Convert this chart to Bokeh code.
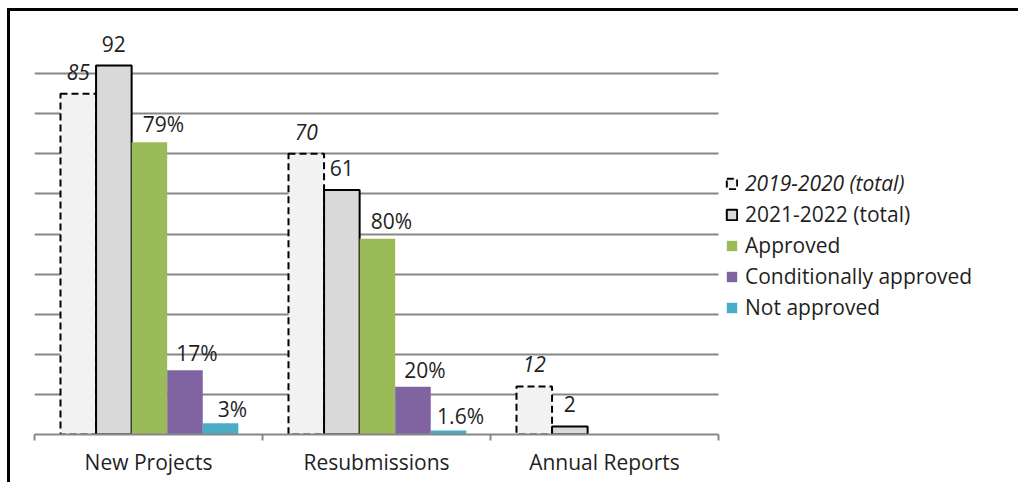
from bokeh.plotting import figure
from bokeh.models import (ColumnDataSource, Range1d, FixedTicker, SingleIntervalTicker,
                          Grid, Legend, LegendItem)
from bokeh.core.properties import value
from bokeh.embed import file_html
from bokeh.resources import INLINE

# ---------------- data ----------------
categories = ["New Projects", "Resubmissions", "Annual Reports"]
series_names = ["2019-2020 (total)", "2021-2022 (total)", "Approved",
                "Conditionally approved", "Not approved"]
total_2019 = [85, 70, 12]
total_2021 = [92, 61, 2]
approved = [72.9, 48.8, None]
cond_approved = [16.0, 11.9, None]
not_approved = [2.8, 1.0, None]
labels_2019 = ["85", "70", "12"]
labels_2021 = ["92", "61", "2"]
labels_approved = ["79%", "80%", ""]
labels_cond = ["17%", "20%", ""]
labels_not = ["3%", "1.6%", ""]

series_values = [total_2019, total_2021, approved, cond_approved, not_approved]
series_labels = [labels_2019, labels_2021, labels_approved, labels_cond, labels_not]

# ---------------- styles ----------------
FONT = "Open Sans"
TXT = "#1f1f1f"
GRID = "#878787"
GAP = 0.114
BW = 0.156
W, H = 1011, 474
LEFT, TOP = 24, 22
styles = [
    dict(fill_color="#F2F2F2", line_color="black", line_width=2, line_dash="7 4"),
    dict(fill_color="#D9D9D9", line_color="black", line_width=2),
    dict(fill_color="#9BBB59", line_color=None),
    dict(fill_color="#8064A2", line_color=None),
    dict(fill_color="#4BACC6", line_color=None),
]
label_styles = [
    dict(text_font_style="italic", x_offset=0, y_offset=-22),
    dict(text_font_style="normal", x_offset=0, y_offset=-22),
    dict(text_font_style="normal", x_offset=14, y_offset=-18),
    dict(text_font_style="normal", x_offset=12, y_offset=-17),
    dict(text_font_style="normal", x_offset=12, y_offset=-14),
]

p = figure(width=W, height=H, output_backend="svg", toolbar_location=None,
           x_range=Range1d(0, (W - LEFT) / 228), y_range=Range1d(0, 100),
           y_axis_location=None, min_border_left=LEFT, min_border_right=0,
           min_border_top=TOP, min_border_bottom=H - TOP - 401)
p.styles = {"border-top": "3px solid black", "border-left": "3px solid black",
            "margin-left": "7px", "margin-top": "8px"}
p.outline_line_color = None
for g in p.grid:
    g.visible = False
p.background_fill_color = "white"
p.border_fill_color = "white"

grid = Grid(dimension=1, ticker=SingleIntervalTicker(interval=10),
            grid_line_color=GRID, grid_line_width=2, cross_bounds=(0, 3))
p.add_layout(grid)

renderers = []
for k, (vals, labs, st, ls) in enumerate(zip(series_values, series_labels, styles, label_styles)):
    xs, tops, texts = [], [], []
    for i, v in enumerate(vals):
        if v is None:
            continue
        xs.append(i + GAP + BW * (k + 0.5))
        tops.append(v)
        texts.append(labs[i])
    src = ColumnDataSource(dict(x=xs, top=tops, label=texts))
    r = p.vbar(x="x", top="top", bottom=0, width=BW, source=src, **st)
    renderers.append(r)
    p.text(x="x", y="top", text="label", source=src, text_align="center",
           text_baseline="alphabetic", text_font=value(FONT), text_font_size="21px",
           text_color=TXT, **ls)

ax = p.xaxis[0]
ax.bounds = (0, 3)
ax.ticker = FixedTicker(ticks=[i + 0.5 for i in range(len(categories))],
                        minor_ticks=list(range(len(categories) + 1)))
ax.major_label_overrides = {i + 0.5: c for i, c in enumerate(categories)}
ax.major_tick_line_color = None
ax.minor_tick_line_color = GRID
ax.minor_tick_line_width = 2
ax.minor_tick_out = 6
ax.minor_tick_in = 0
ax.axis_line_color = GRID
ax.axis_line_width = 2
ax.major_label_text_font = FONT
ax.major_label_text_font_size = "21px"
ax.major_label_text_color = TXT
ax.major_label_standoff = 7

common = dict(border_line_color=None, background_fill_alpha=0, padding=0, margin=0,
              glyph_width=13, glyph_height=13, label_standoff=7,
              label_text_font=FONT, label_text_font_size="21px",
              label_text_color=TXT, label_height=20, spacing=3)
leg1 = Legend(items=[LegendItem(label=series_names[0], renderers=[renderers[0]])],
              location=(691, 237), label_text_font_style="italic", **common)
leg2 = Legend(items=[LegendItem(label=n, renderers=[r]) for n, r in zip(series_names[1:], renderers[1:])],
              location=(691, 113), **common)
p.add_layout(leg1)
p.add_layout(leg2)

open("out.html", "w").write(file_html(p, INLINE))
